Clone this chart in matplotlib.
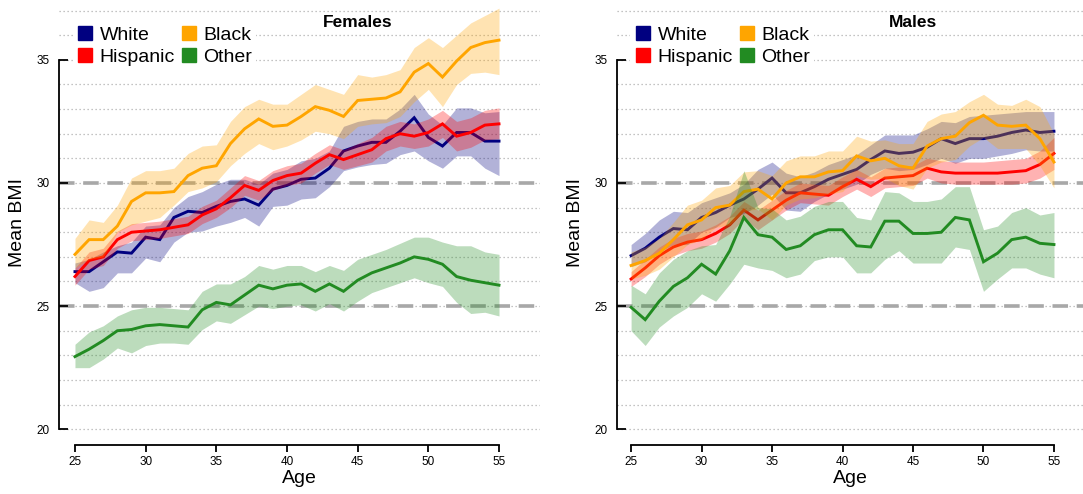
import numpy as np
import matplotlib
matplotlib.use("Agg")
import matplotlib.pyplot as plt
from matplotlib.lines import Line2D

plt.rcParams['font.family'] = ['Liberation Sans', 'DejaVu Sans']

ages = np.arange(25, 56)

# ---- Females ----
f_white = [26.4, 26.4, 26.8, 27.2, 27.15, 27.8, 27.7, 28.6, 28.85, 28.8, 29.05, 29.25, 29.35, 29.1, 29.75, 29.9,
           30.15, 30.2, 30.6, 31.3, 31.5, 31.65, 31.65, 32.1, 32.65, 31.85, 31.5, 32.05, 32.05, 31.7, 31.7]
f_white_hi = [26.75, 26.9, 27.2, 27.45, 27.6, 28.25, 28.3, 29.0, 29.45, 29.65, 29.95, 30.15, 30.15, 29.95, 30.4, 30.55,
              30.9, 31.0, 31.3, 32.3, 32.5, 32.6, 32.6, 33.0, 33.6, 32.8, 32.35, 33.05, 33.05, 32.85, 32.9]
f_white_lo = [25.95, 25.6, 25.75, 26.35, 26.35, 26.95, 26.8, 27.6, 28.0, 28.05, 28.25, 28.4, 28.6, 28.25, 29.05, 29.1,
              29.35, 29.4, 29.85, 30.5, 30.65, 30.75, 30.8, 31.15, 31.3, 30.9, 30.6, 31.1, 31.1, 30.6, 30.3]

f_hisp = [26.2, 26.85, 27.0, 27.7, 28.0, 28.05, 28.1, 28.2, 28.3, 28.7, 28.95, 29.4, 29.9, 29.7, 30.1, 30.3,
          30.4, 30.8, 31.15, 30.95, 31.15, 31.35, 31.8, 32.0, 31.9, 32.05, 32.4, 31.9, 32.05, 32.35, 32.4]
f_hisp_hi = [26.55, 27.2, 27.35, 28.05, 28.35, 28.4, 28.45, 28.55, 28.65, 29.05, 29.3, 29.8, 30.3, 30.1, 30.5, 30.7,
             30.8, 31.2, 31.55, 31.35, 31.6, 31.85, 32.3, 32.5, 32.4, 32.6, 32.95, 32.5, 32.65, 32.95, 33.05]
f_hisp_lo = [25.85, 26.5, 26.65, 27.35, 27.65, 27.7, 27.75, 27.85, 27.95, 28.35, 28.6, 29.0, 29.5, 29.3, 29.7, 29.9,
             30.0, 30.4, 30.75, 30.55, 30.7, 30.85, 31.3, 31.5, 31.4, 31.5, 31.85, 31.3, 31.45, 31.75, 31.8]

f_black = [27.1, 27.7, 27.7, 28.25, 29.25, 29.6, 29.6, 29.65, 30.3, 30.6, 30.7, 31.6, 32.2, 32.6, 32.3, 32.35,
           32.7, 33.1, 32.95, 32.7, 33.35, 33.4, 33.45, 33.7, 34.5, 34.85, 34.3, 34.95, 35.5, 35.7, 35.8]
f_black_hi = [27.75, 28.5, 28.4, 29.1, 30.2, 30.5, 30.5, 30.6, 31.2, 31.5, 31.55, 32.5, 33.1, 33.4, 33.2, 33.2,
              33.6, 34.0, 33.8, 33.6, 34.4, 34.3, 34.4, 34.6, 35.5, 35.9, 35.5, 36.0, 36.5, 36.8, 37.1]
f_black_lo = [26.55, 26.9, 27.0, 28.0, 28.3, 28.45, 28.6, 29.1, 29.65, 29.8, 30.05, 30.7, 31.2, 31.6, 31.35, 31.5,
              31.75, 32.1, 32.0, 31.8, 32.3, 32.4, 32.45, 32.7, 33.3, 33.8, 33.1, 34.0, 34.45, 34.5, 34.4]

f_other = [22.95, 23.25, 23.6, 24.0, 24.05, 24.2, 24.25, 24.2, 24.15, 24.85, 25.15, 25.05, 25.45, 25.85, 25.7, 25.85,
           25.9, 25.6, 25.9, 25.6, 26.05, 26.35, 26.55, 26.75, 27.0, 26.9, 26.7, 26.2, 26.05, 25.95, 25.85]
f_other_hi = [23.45, 23.95, 24.2, 24.6, 24.85, 24.95, 24.95, 24.9, 24.85, 25.6, 25.9, 25.9, 26.2, 26.65, 26.5, 26.65,
              26.65, 26.4, 26.65, 26.45, 26.9, 27.1, 27.3, 27.55, 27.8, 27.8, 27.6, 27.45, 27.45, 27.2, 27.1]
f_other_lo = [22.5, 22.5, 22.85, 23.3, 23.1, 23.4, 23.5, 23.5, 23.45, 24.05, 24.4, 24.3, 24.65, 25.0, 24.9, 25.0,
              25.05, 24.8, 25.1, 24.8, 25.2, 25.55, 25.75, 25.95, 26.15, 25.95, 25.8, 25.15, 24.7, 24.75, 24.6]

# ---- Males ----
m_white = [27.05, 27.35, 27.8, 28.15, 28.1, 28.6, 28.8, 29.1, 29.35, 29.75, 30.2, 29.6, 29.6, 29.85, 30.15, 30.35,
           30.55, 30.95, 31.3, 31.2, 31.25, 31.45, 31.8, 31.6, 31.8, 31.8, 31.9, 32.05, 32.15, 32.05, 32.1]
m_white_hi = [27.5, 27.95, 28.5, 28.85, 28.8, 29.2, 29.4, 29.6, 29.95, 30.55, 30.85, 30.4, 30.25, 30.45, 30.75, 30.95,
              31.15, 31.55, 31.95, 31.95, 31.95, 32.2, 32.5, 32.45, 32.7, 32.75, 32.8, 32.85, 32.9, 32.9, 32.9]
m_white_lo = [26.6, 26.8, 27.2, 27.5, 27.5, 28.0, 28.2, 28.6, 28.75, 29.1, 29.55, 28.9, 28.85, 29.25, 29.55, 29.75,
              29.95, 30.35, 30.6, 30.5, 30.55, 30.75, 31.0, 30.8, 31.0, 31.0, 31.1, 31.2, 31.35, 31.3, 31.3]

m_hisp = [26.1, 26.55, 27.05, 27.4, 27.6, 27.7, 27.95, 28.3, 28.9, 28.5, 28.9, 29.3, 29.6, 29.55, 29.5, 29.85,
          30.15, 29.85, 30.2, 30.25, 30.3, 30.6, 30.45, 30.4, 30.4, 30.4, 30.4, 30.45, 30.5, 30.75, 31.2]
m_hisp_hi = [26.4, 26.9, 27.4, 27.75, 27.95, 28.05, 28.3, 28.65, 29.25, 28.9, 29.3, 29.7, 30.0, 29.95, 29.9, 30.25,
             30.55, 30.25, 30.6, 30.65, 30.7, 31.0, 30.9, 30.85, 30.85, 30.85, 30.9, 30.95, 31.0, 31.3, 31.85]
m_hisp_lo = [25.8, 26.2, 26.7, 27.05, 27.25, 27.35, 27.6, 27.95, 28.55, 28.1, 28.5, 28.9, 29.2, 29.15, 29.1, 29.45,
             29.75, 29.45, 29.8, 29.85, 29.9, 30.2, 30.0, 29.95, 29.95, 29.95, 29.95, 29.95, 30.0, 30.2, 30.55]

m_black = [26.65, 26.85, 27.15, 27.7, 28.3, 28.5, 29.0, 29.1, 29.65, 29.75, 29.35, 30.0, 30.25, 30.25, 30.45, 30.5,
           31.1, 30.9, 31.0, 30.7, 30.6, 31.5, 31.8, 31.9, 32.45, 32.75, 32.35, 32.3, 32.35, 31.8, 30.85]
m_black_hi = [27.2, 27.4, 27.75, 28.4, 29.1, 29.3, 29.8, 29.9, 30.45, 30.5, 30.3, 30.9, 31.1, 31.1, 31.3, 31.3,
              31.9, 31.7, 31.75, 31.6, 31.6, 32.5, 32.8, 32.9, 33.3, 33.6, 33.2, 33.15, 33.4, 33.1, 32.0]
m_black_lo = [26.1, 26.25, 26.5, 27.0, 27.5, 27.7, 28.2, 28.3, 28.85, 28.95, 28.5, 29.1, 29.35, 29.4, 29.55, 29.65,
              30.3, 30.15, 30.2, 29.9, 29.75, 30.6, 30.85, 30.95, 31.5, 31.85, 31.4, 31.4, 31.4, 30.7, 29.8]

m_other = [24.95, 24.45, 25.2, 25.8, 26.15, 26.7, 26.3, 27.25, 28.6, 27.9, 27.8, 27.3, 27.45, 27.9, 28.1, 28.1,
           27.45, 27.4, 28.45, 28.45, 27.95, 27.95, 28.0, 28.6, 28.5, 26.8, 27.15, 27.7, 27.8, 27.55, 27.5]
m_other_hi = [25.85, 25.5, 26.35, 26.9, 27.25, 27.45, 27.5, 28.65, 30.5, 29.0, 28.95, 28.5, 28.65, 29.05, 29.25, 29.25,
              28.6, 28.5, 29.65, 29.6, 29.25, 29.25, 29.35, 29.85, 29.85, 28.1, 28.25, 28.8, 29.0, 28.7, 28.8]
m_other_lo = [24.0, 23.4, 24.15, 24.6, 24.95, 25.5, 25.2, 25.9, 26.7, 26.55, 26.45, 26.15, 26.3, 26.85, 27.0, 27.0,
              26.35, 26.35, 26.9, 27.25, 26.75, 26.75, 26.75, 27.4, 27.3, 25.6, 26.1, 26.55, 26.55, 26.3, 26.15]

groups = ['White', 'Hispanic', 'Black', 'Other']
colors = ['#000080', '#ff0000', '#ffa500', '#228b22']

panels = [
    ('Females', [(f_white, f_white_lo, f_white_hi), (f_hisp, f_hisp_lo, f_hisp_hi),
                 (f_black, f_black_lo, f_black_hi), (f_other, f_other_lo, f_other_hi)]),
    ('Males', [(m_white, m_white_lo, m_white_hi), (m_hisp, m_hisp_lo, m_hisp_hi),
               (m_black, m_black_lo, m_black_hi), (m_other, m_other_lo, m_other_hi)]),
]

W, H = 1083, 494
fig = plt.figure(figsize=(W / 100, H / 100), dpi=100)

# axes boxes in pixels: (left, right), plus x limits
boxes = [((59, 540), (23.87, 57.9)), ((617, 1083), (24.0, 57.06))]
top_px, bottom_px = 0, 445
ylim = (19.36, 37.43)

for (title, series), ((l, r), xlim) in zip(panels, boxes):
    ax = fig.add_axes([l / W, (H - bottom_px) / H, (r - l) / W, (bottom_px - top_px) / H])
    ax.set_xlim(*xlim)
    ax.set_ylim(*ylim)

    # reference grid
    for yv in range(20, 38):
        ax.axhline(yv, color='#b0b0b0', lw=0.9, ls=(0, (1, 2.2)), zorder=0)
    for yv in (25, 30):
        ax.axhline(yv, color='#a8a8a8', lw=2.6, ls=(0, (4.3, 2.4)), zorder=0.5)

    for (mean, lo, hi), c in zip(series, colors):
        ax.fill_between(ages, lo, hi, color=c, alpha=0.3, lw=0, zorder=1)
        ax.plot(ages, mean, color=c, lw=2.1, zorder=1, solid_joinstyle='miter')

    ax.text(45, 36.5, title, ha='center', va='center', fontsize=12.5, fontweight='bold')

    for s in ('top', 'right'):
        ax.spines[s].set_visible(False)
    ax.spines['left'].set_bounds(20, 35)
    ax.spines['bottom'].set_bounds(25, 55)
    ax.spines['left'].set_linewidth(1.3)
    ax.spines['bottom'].set_linewidth(1.3)
    ax.set_yticks([20, 25, 30, 35])
    ax.set_xticks(range(25, 60, 5))
    ax.tick_params(axis='y', direction='in', length=6.5, width=1.3, pad=7, labelsize=8.5)
    ax.tick_params(axis='x', direction='out', length=5, width=1.3, pad=3, labelsize=8.5)
    ax.set_xlabel('Age', fontsize=14, labelpad=1.5)
    ax.set_ylabel('Mean BMI', fontsize=14, labelpad=7)

    handles = [Line2D([], [], marker='s', ls='none', color=c, markersize=9.5) for c in colors]
    leg = ax.legend([handles[0], handles[1], handles[2], handles[3]],
                    [groups[0], groups[1], groups[2], groups[3]],
                    ncol=2, loc='upper left', bbox_to_anchor=(0.008, 0.972),
                    fontsize=14, frameon=True, facecolor='white', edgecolor='none',
                    framealpha=1, handlelength=0.9, handletextpad=0.3,
                    columnspacing=0.25, labelspacing=0.22, borderpad=0.2)
    leg.set_zorder(3)

fig.savefig('out.png', dpi=100)
